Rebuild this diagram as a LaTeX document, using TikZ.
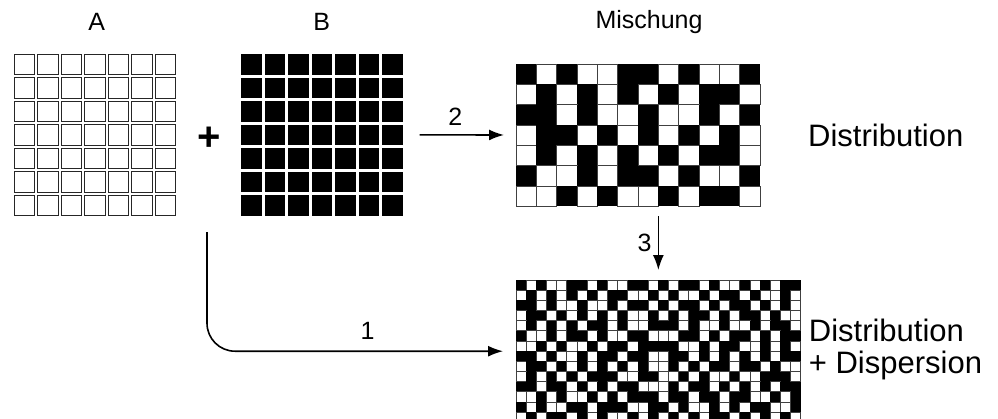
\documentclass[tikz,border=0pt]{standalone}
\usepackage{fontspec}
\setmainfont{Liberation Sans}
\usetikzlibrary{arrows.meta,positioning,calc}

\begin{document}
\begin{tikzpicture}[x=1pt, y=-1pt,
    every node/.style={font=\fontsize{25}{32}\selectfont, inner sep=0pt, text depth=0pt},
    gross/.style={font=\fontsize{31}{32}\selectfont},
    gitter/.style={rectangle, anchor=north west, inner sep=0pt, outer sep=0pt},
    hell/.style={draw=black!75, line width=0.9pt, fill=white},
    dunkel/.style={fill=black},
    pfeil/.style={-{Latex[length=15pt,width=11pt]}, line width=1.6pt}]

    \useasboundingbox (0,0) rectangle (998,418);
    \clip (0,0) rectangle (998,418);

    % Flaechen der vier Raster
    \node[gitter, minimum width=161.5pt, minimum height=161.5pt] (gridA) at (14,54) {};
    \node[gitter, minimum width=161.5pt, minimum height=161.5pt] (gridB) at (241,54) {};
    \node[gitter, minimum width=244pt, minimum height=142.3pt] (mix) at (516,64) {};
    \node[gitter, minimum width=284.7pt, minimum height=142.4pt] (disp) at (516,280) {};

    % A und B
    \foreach \i in {0,...,6}
        \foreach \j in {0,...,6} {
            \draw[hell, draw=black!85] ($(gridA.north west)+(\i*23.5,\j*23.5)$) rectangle ++(20.5,20.5);
            \fill[dunkel] ($(gridB.north west)+(\i*23.5,\j*23.5)$) rectangle ++(20.5,20.5);
        }

    % Mischung
    \foreach \zeile [count=\r from 0] in {
        {1,0,1,0,0,1,1,0,1,0,0,1},
        {0,1,0,1,0,1,0,1,0,1,1,0},
        {1,1,0,1,0,0,1,0,0,1,0,1},
        {0,1,1,0,1,0,1,0,1,0,1,0},
        {0,1,0,1,0,1,0,1,0,1,1,0},
        {1,0,0,1,0,1,1,0,1,0,0,1},
        {0,0,1,0,1,0,0,1,0,1,1,0}}
        \foreach \feld [count=\c from 0] in \zeile {
            \ifnum\feld=1
                \fill[dunkel] ($(mix.north west)+(\c*20.333,\r*20.333)$) rectangle ++(20.333,20.333);
            \else
                \draw[hell] ($(mix.north west)+(\c*20.333,\r*20.333)$) rectangle ++(20.333,20.333);
            \fi
        }

    % Dispersion
    \foreach \zeile [count=\r from 0] in {
        {1,0,1,0,0,1,1,0,1,0,0,1,1,0,1,0,1,1,0,1,0,0,1,0,1,0,1,1},
        {0,1,0,1,0,1,0,1,0,1,1,0,0,1,0,1,0,0,1,0,1,1,0,1,0,0,1,0},
        {1,1,0,1,0,0,1,0,0,1,0,1,1,0,1,0,1,1,0,1,0,1,1,0,1,0,1,0},
        {0,1,1,0,1,0,1,0,1,0,1,0,0,1,0,1,0,1,1,0,1,0,1,1,0,1,0,0},
        {0,1,0,1,0,1,0,1,1,0,1,0,0,1,1,1,0,1,0,0,1,0,0,1,0,1,1,0},
        {1,0,0,1,0,1,1,0,1,0,0,1,1,0,0,0,1,1,0,1,0,1,1,0,1,0,1,1},
        {0,0,1,0,1,0,0,1,0,1,1,0,1,1,1,1,0,0,1,0,1,1,0,0,1,0,1,0},
        {1,1,0,1,0,0,1,0,1,1,0,1,1,0,0,1,1,0,1,0,1,0,1,0,1,0,1,1},
        {0,1,1,0,1,0,1,0,1,0,1,0,1,0,0,1,0,1,0,1,1,0,1,1,0,1,0,0},
        {0,1,0,1,0,1,0,1,1,1,0,0,1,1,0,0,1,0,1,0,0,1,0,0,1,1,1,0},
        {1,1,0,1,1,0,1,0,1,0,1,1,0,0,0,1,0,1,1,0,1,0,1,0,1,0,1,1},
        {0,0,1,0,1,0,0,1,0,1,0,1,1,1,0,1,1,0,1,1,0,1,1,0,0,1,0,1},
        {1,0,1,0,0,1,1,0,1,1,1,0,0,1,1,0,1,0,0,1,0,1,0,1,1,0,0,1},
        {0,1,0,1,1,0,1,0,1,0,0,1,0,1,0,1,0,1,0,1,1,0,1,0,1,0,1,0}}
        \foreach \feld [count=\c from 0] in \zeile {
            \ifnum\feld=1
                \fill[dunkel] ($(disp.north west)+(\c*10.167,\r*10.167)$) rectangle ++(10.167,10.167);
            \else
                \draw[hell, line width=0.7pt] ($(disp.north west)+(\c*10.167,\r*10.167)$) rectangle ++(10.167,10.167);
            \fi
        }

    % Beschriftungen
    \node (labA) [above=23pt of gridA, xshift=2pt] {A};
    \node (labB) [above=23pt of gridB] {B};
    \node (labMix) [above=35pt of mix, xshift=11pt] {Mischung};
    \node (plus) at (209,139) {\fontsize{40}{40}\selectfont\bfseries +};
    \node (labDist) [gross, right=8pt of mix, xshift=40pt] {Distribution};
    \node (labDisp) [gross, right=8pt of disp, align=left, yshift=5pt] {Distribution\\+ Dispersion};

    % Pfeile
    \coordinate (start) at (207,232);
    \draw[pfeil, shorten <=17pt, shorten >=12pt] (gridB) -- (mix) node[midway, above=9pt, xshift=-4pt] {2};
    \draw[pfeil, shorten <=10pt, shorten >=10pt] (mix.south -| disp.north) -- (disp.north) node[midway, left=6pt] {3};
    \draw[pfeil, rounded corners=28pt, shorten >=13pt] (start) |- (disp.west) node[pos=0.76, above=11pt] {1};
\end{tikzpicture}
\end{document}
